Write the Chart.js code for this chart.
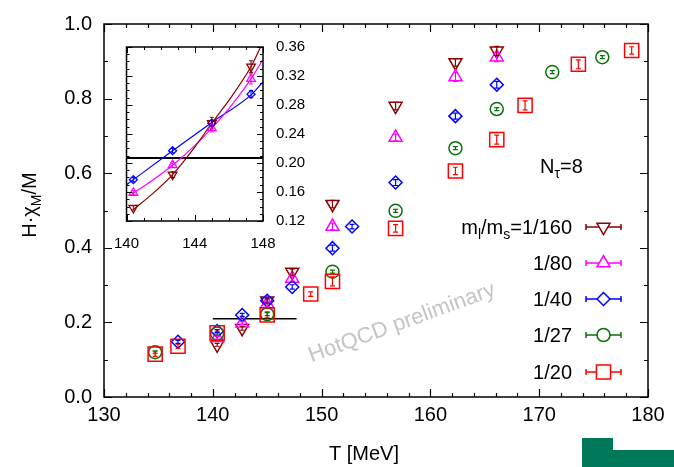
<!DOCTYPE html>
<html>
<head>
<meta charset="utf-8">
<script src="https://cdn.jsdelivr.net/npm/chart.js@4/dist/chart.umd.min.js"></script>
<style>
  body { margin: 0; background: #fff; }
  #wrap { position: relative; width: 674px; height: 467px; overflow: hidden; }
  #main { position: absolute; left: 0; top: 0; }
  #inset { position: absolute; left: 100px; top: 25px; }
  .logo { position: absolute; background: #00785a; }
</style>
</head>
<body>
<div id="wrap">
  <canvas id="main" width="674" height="467"></canvas>
  <canvas id="inset" width="230" height="230"></canvas>
  <div class="logo" style="left:582px;top:438px;width:31px;height:29px"></div>
  <div class="logo" style="left:613px;top:450px;width:61px;height:17px"></div>
</div>
<script>
const FONT = '"Liberation Sans", Arial, sans-serif';

// axis ticks
const xTicks = [130, 140, 150, 160, 170, 180];
const yTicks = [0, 0.2, 0.4, 0.6, 0.8, 1.0];
const insetXTicks = [140, 144, 148];
const insetYTicks = [0.12, 0.16, 0.20, 0.24, 0.28, 0.32, 0.36];

// m_l/m_s = 1/160
const t160 = [140.4, 142.7, 145.0, 147.3, 151.0, 156.8, 162.3, 166.1];
const chi160 = [0.140, 0.184, 0.258, 0.335, 0.517, 0.780, 0.897, 0.928];
const err160 = [0.004, 0.005, 0.008, 0.008, 0.010, 0.010, 0.010, 0.012];
// 1/80
const t80 = [140.4, 142.7, 145.0, 147.3, 151.0, 156.8, 162.3, 166.1];
const chi80 = [0.159, 0.198, 0.249, 0.318, 0.457, 0.696, 0.858, 0.911];
const err80 = [0.004, 0.004, 0.006, 0.007, 0.009, 0.009, 0.012, 0.012];
// 1/40
const t40 = [136.8, 140.4, 142.7, 145.0, 147.3, 151.0, 152.8, 156.8, 162.3, 166.1];
const chi40 = [0.148, 0.177, 0.220, 0.258, 0.295, 0.399, 0.457, 0.575, 0.753, 0.837];
const err40 = [0.004, 0.004, 0.004, 0.005, 0.006, 0.008, 0.006, 0.008, 0.008, 0.009];
// 1/27
const t27 = [134.7, 140.4, 145.0, 151.0, 156.8, 162.3, 166.1, 171.2, 175.8];
const chi27 = [0.120, 0.170, 0.222, 0.336, 0.499, 0.667, 0.772, 0.871, 0.911];
const err27 = [0.004, 0.004, 0.004, 0.004, 0.004, 0.004, 0.004, 0.004, 0.004];
// 1/20
const t20 = [134.7, 136.8, 140.4, 145.0, 149.0, 151.0, 156.8, 162.3, 166.1, 168.7, 173.6, 178.5];
const chi20 = [0.115, 0.136, 0.172, 0.220, 0.276, 0.310, 0.452, 0.606, 0.690, 0.782, 0.892, 0.929];
const err20 = [0.006, 0.006, 0.008, 0.008, 0.006, 0.012, 0.010, 0.010, 0.012, 0.012, 0.012, 0.010];

const seriesLabels = ['1/160', '1/80', '1/40', '1/27', '1/20'];

// short black line in the main plot
const markT = [140.0, 147.7];
const markChi = [0.21, 0.21];

// inset: points near the transition
const insetT = [140.4, 142.7, 145.0, 147.3];
const inset160 = [0.138, 0.184, 0.255, 0.333];
const insetErr160 = [0.003, 0.004, 0.008, 0.008];
const inset80 = [0.159, 0.197, 0.248, 0.316];
const insetErr80 = [0.003, 0.003, 0.005, 0.007];
const inset40 = [0.177, 0.217, 0.255, 0.295];
const insetErr40 = [0.003, 0.003, 0.004, 0.005];

// inset fit curves
const fit160T = [140.4, 141.5, 142.7, 144.0, 145.0, 146.2, 147.3, 147.9];
const fit160 = [0.136, 0.157, 0.184, 0.222, 0.255, 0.293, 0.333, 0.362];
const fit80T = [140.25, 141.5, 142.7, 144.0, 145.0, 146.2, 147.3, 148.0];
const fit80 = [0.156, 0.176, 0.197, 0.224, 0.248, 0.281, 0.316, 0.343];
const fit40T = [140.0, 142.7, 145.0, 147.3, 148.0];
const fit40 = [0.170, 0.217, 0.256, 0.294, 0.312];
const insetLineT = [140, 148];
const insetLineChi = [0.207, 0.207];

const styles = [
  { color: '#8b0000', shape: 'triangle', rot: 180, r: 7.5 },
  { color: '#ff00ff', shape: 'triangle', rot: 0, r: 7.5 },
  { color: '#0000ff', shape: 'rectRot', rot: 0, r: 6.5 },
  { color: '#0a700a', shape: 'circle', rot: 0, r: 6.5 },
  { color: '#ff0000', shape: 'rect', rot: 0, r: 10 }
];

const pts = (xs, ys) => xs.map((x, i) => ({ x, y: ys[i] }));

const mainSeries = [
  [t160, chi160, err160],
  [t80, chi80, err80],
  [t40, chi40, err40],
  [t27, chi27, err27],
  [t20, chi20, err20]
];

// draw rich text: parts = [{t, size, dy}]
const richWidth = (ctx, parts) => parts.reduce((w, p) => {
  ctx.font = p.size + 'px ' + FONT;
  return w + ctx.measureText(p.t).width;
}, 0);

const drawRich = (ctx, parts, x, y, align) => {
  const w = richWidth(ctx, parts);
  let cx = align === 'right' ? x - w : align === 'center' ? x - w / 2 : x;
  ctx.textAlign = 'left';
  ctx.textBaseline = 'alphabetic';
  parts.forEach(p => {
    ctx.font = p.size + 'px ' + FONT;
    ctx.fillText(p.t, cx, y + (p.dy || 0));
    cx += ctx.measureText(p.t).width;
  });
};

const errorBars = {
  id: 'errorBars',
  afterDatasetsDraw(chart, args, opts) {
    const { ctx, scales: { y } } = chart;
    ctx.save();
    ctx.lineWidth = opts.width;
    chart.data.datasets.forEach((ds, i) => {
      if (!ds.errors) return;
      const meta = chart.getDatasetMeta(i);
      ctx.strokeStyle = ds.borderColor;
      meta.data.forEach((el, j) => {
        const v = ds.data[j].y, e = ds.errors[j];
        const y1 = y.getPixelForValue(v + e), y2 = y.getPixelForValue(v - e);
        ctx.beginPath();
        ctx.moveTo(el.x, y1); ctx.lineTo(el.x, y2);
        ctx.moveTo(el.x - opts.cap, y1); ctx.lineTo(el.x + opts.cap, y1);
        ctx.moveTo(el.x - opts.cap, y2); ctx.lineTo(el.x + opts.cap, y2);
        ctx.stroke();
      });
    });
    ctx.restore();
  }
};

const frame = {
  id: 'frame',
  afterDraw(chart, args, opts) {
    const { ctx, chartArea: a, scales: { x, y } } = chart;
    const isMajor = (v, list) => list.some(m => Math.abs(m - v) < 1e-6);
    ctx.save();
    ctx.strokeStyle = '#000';
    ctx.lineWidth = opts.lw;
    ctx.strokeRect(a.left, a.top, a.right - a.left, a.bottom - a.top);
    ctx.lineWidth = opts.tw;
    ctx.beginPath();
    for (let v = x.min; v <= x.max + 1e-6; v += opts.xMinor) {
      const L = isMajor(v, opts.xMajor) ? opts.major : opts.minor;
      const px = Math.round(x.getPixelForValue(v)) + 0.5;
      ctx.moveTo(px, a.bottom); ctx.lineTo(px, a.bottom - L);
      ctx.moveTo(px, a.top); ctx.lineTo(px, a.top + L);
    }
    for (let v = y.min; v <= y.max + 1e-6; v += opts.yMinor) {
      const L = isMajor(v, opts.yMajor) ? opts.major : opts.minor;
      const py = Math.round(y.getPixelForValue(v)) + 0.5;
      ctx.moveTo(a.left, py); ctx.lineTo(a.left + L, py);
      ctx.moveTo(a.right, py); ctx.lineTo(a.right - L, py);
    }
    ctx.stroke();
    ctx.restore();
  }
};

const watermark = {
  id: 'watermark',
  beforeDatasetsDraw(chart) {
    const ctx = chart.ctx;
    ctx.save();
    ctx.translate(402, 323);
    ctx.rotate(-20 * Math.PI / 180);
    ctx.fillStyle = '#c4c4c4';
    ctx.font = '22px ' + FONT;
    ctx.textAlign = 'center';
    ctx.textBaseline = 'middle';
    ctx.fillText('HotQCD preliminary', 0, 0);
    ctx.restore();
  }
};

const annotations = {
  id: 'annotations',
  afterDraw(chart) {
    const ctx = chart.ctx;
    ctx.save();
    ctx.fillStyle = '#000';

    // axis titles
    drawRich(ctx, [{ t: 'T [MeV]', size: 20 }], 364, 460, 'center');
    ctx.save();
    ctx.translate(36, 205);
    ctx.rotate(-Math.PI / 2);
    drawRich(ctx, [
      { t: 'H\u00b7\u03c7', size: 20 },
      { t: 'M', size: 14, dy: 5 },
      { t: '/M', size: 20 }
    ], 0, 0, 'center');
    ctx.restore();

    // N_tau
    drawRich(ctx, [
      { t: 'N', size: 20 },
      { t: '\u03c4', size: 14, dy: 5 },
      { t: '=8', size: 20 }
    ], 540, 173, 'left');

    // legend
    const rows = [227, 263, 299, 335, 372];
    rows.forEach((cy, i) => {
      ctx.fillStyle = '#000';
      const parts = i === 0
        ? [{ t: 'm', size: 20 }, { t: 'l', size: 14, dy: 5 }, { t: '/m', size: 20 },
           { t: 's', size: 14, dy: 5 }, { t: '=' + seriesLabels[0], size: 20 }]
        : [{ t: seriesLabels[i], size: 20 }];
      drawRich(ctx, parts, 572, cy + 7, 'right');
      const st = styles[i];
      ctx.strokeStyle = st.color;
      ctx.lineWidth = 1.5;
      ctx.beginPath();
      ctx.moveTo(586, cy); ctx.lineTo(621, cy);
      ctx.moveTo(586, cy - 3); ctx.lineTo(586, cy + 3);
      ctx.moveTo(621, cy - 3); ctx.lineTo(621, cy + 3);
      ctx.stroke();
      ctx.fillStyle = '#fff';
      Chart.helpers.drawPoint(ctx, {
        pointStyle: st.shape, rotation: st.rot, radius: st.r, borderWidth: 1.5
      }, 603.5, cy);
    });
    ctx.restore();
  }
};

// main datasets, drawn so that 1/20 ends up on top
const mainDatasets = mainSeries.map((s, i) => ({
  data: pts(s[0], s[1]),
  errors: s[2],
  showLine: false,
  pointStyle: styles[i].shape,
  pointRotation: styles[i].rot,
  pointRadius: styles[i].r,
  pointBorderWidth: 1.5,
  borderColor: styles[i].color,
  backgroundColor: 'rgba(0,0,0,0)'
})).reverse();

mainDatasets.push({
  data: pts(markT, markChi),
  showLine: true,
  pointRadius: 0,
  borderColor: '#000',
  borderWidth: 1.5
});

const tickFont = size => ({ family: FONT, size });

new Chart(document.getElementById('main'), {
  type: 'scatter',
  data: { datasets: mainDatasets },
  options: {
    responsive: false,
    animation: false,
    layout: { padding: { left: 0, top: 16, right: 26, bottom: 0 } },
    plugins: {
      legend: { display: false },
      tooltip: { enabled: false },
      errorBars: { width: 1.2, cap: 2.5 },
      frame: { lw: 1.5, tw: 1.2, major: 8, minor: 4, xMinor: 2, yMinor: 0.1, xMajor: xTicks, yMajor: yTicks }
    },
    scales: {
      x: {
        type: 'linear', min: 130, max: 180,
        afterBuildTicks: s => { s.ticks = xTicks.map(v => ({ value: v })); },
        afterFit: s => { s.height = 70; },
        grid: { display: false, drawTicks: false },
        border: { display: false },
        ticks: { padding: 6, color: '#000', font: tickFont(20), callback: v => String(v) }
      },
      y: {
        type: 'linear', min: 0, max: 1,
        afterBuildTicks: s => { s.ticks = yTicks.map(v => ({ value: v })); },
        afterFit: s => { s.width = 104; },
        grid: { display: false, drawTicks: false },
        border: { display: false },
        ticks: { padding: 12, color: '#000', font: tickFont(20), callback: v => v.toFixed(1) }
      }
    }
  },
  plugins: [watermark, errorBars, frame, annotations]
});

// inset
const insetStyles = [styles[0], styles[1], styles[2]];
const insetPoints = [
  [inset160, insetErr160],
  [inset80, insetErr80],
  [inset40, insetErr40]
];
const insetFits = [[fit160T, fit160], [fit80T, fit80], [fit40T, fit40]];

const insetDatasets = [];
insetPoints.forEach((p, i) => {
  insetDatasets.push({
    data: pts(insetT, p[0]),
    errors: p[1],
    showLine: false,
    pointStyle: insetStyles[i].shape,
    pointRotation: insetStyles[i].rot,
    pointRadius: insetStyles[i].shape === 'rectRot' ? 4 : 5,
    pointBorderWidth: 1.3,
    borderColor: insetStyles[i].color,
    backgroundColor: 'rgba(0,0,0,0)'
  });
});
insetFits.forEach((f, i) => {
  insetDatasets.push({
    data: pts(f[0], f[1]),
    showLine: true,
    cubicInterpolationMode: 'monotone',
    pointRadius: 0,
    borderColor: insetStyles[i].color,
    borderWidth: 1.2
  });
});
insetDatasets.push({
  data: pts(insetLineT, insetLineChi),
  showLine: true,
  pointRadius: 0,
  borderColor: '#000',
  borderWidth: 2
});

new Chart(document.getElementById('inset'), {
  type: 'scatter',
  data: { datasets: insetDatasets },
  options: {
    responsive: false,
    animation: false,
    layout: { padding: { left: 24, top: 11, right: 17, bottom: 4 } },
    plugins: {
      legend: { display: false },
      tooltip: { enabled: false },
      errorBars: { width: 1, cap: 2 },
      frame: { lw: 1.5, tw: 1, major: 6, minor: 3, xMinor: 1, yMinor: 0.01, xMajor: insetXTicks, yMajor: insetYTicks }
    },
    scales: {
      x: {
        type: 'linear', min: 140, max: 148,
        afterBuildTicks: s => { s.ticks = insetXTicks.map(v => ({ value: v })); },
        afterFit: s => { s.height = 30; },
        grid: { display: false, drawTicks: false },
        border: { display: false },
        ticks: { padding: 14, color: '#000', font: tickFont(15), callback: v => String(v) }
      },
      y: {
        type: 'linear', min: 0.12, max: 0.36, position: 'right',
        afterBuildTicks: s => { s.ticks = insetYTicks.map(v => ({ value: v })); },
        afterFit: s => { s.width = 50; },
        grid: { display: false, drawTicks: false },
        border: { display: false },
        ticks: { padding: 13, color: '#000', font: tickFont(15), callback: v => v.toFixed(2) }
      }
    }
  },
  plugins: [errorBars, frame]
});
</script>
</body>
</html>
